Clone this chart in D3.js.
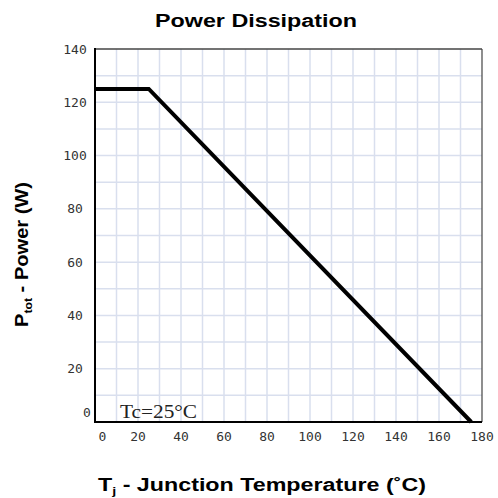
<!DOCTYPE html>
<html>
<head>
<meta charset="utf-8">
<script src="https://cdn.jsdelivr.net/npm/d3@7"></script>
<style>
  body { margin: 0; background: #fff; }
  svg { display: block; }
</style>
</head>
<body>
<div id="chart"></div>
<script>
// power derating curve: Ptot vs Tj
var tempPoints = [0, 25, 175]
var powerPoints = [125, 125, 0]
var xTicks = [0, 20, 40, 60, 80, 100, 120, 140, 160, 180]
var yTicks = [0, 20, 40, 60, 80, 100, 120, 140]
var xGrid = d3.range(10, 180, 10)
var yGrid = d3.range(10, 140, 10)

var W = 498, H = 498
var margin = {top: 49, right: 16, bottom: 76, left: 95}
var width = W - margin.left - margin.right,
    height = H - margin.top - margin.bottom

var svg = d3.select('#chart').append('svg')
  .attr('width', W)
  .attr('height', H)

var x = d3.scaleLinear().domain([0, 180]).range([margin.left, margin.left + width])
var y = d3.scaleLinear().domain([0, 140]).range([margin.top + height, margin.top])

// grid
svg.append('g').selectAll('line').data(xGrid).enter().append('line')
  .attr('x1', d => x(d)).attr('x2', d => x(d))
  .attr('y1', y(140)).attr('y2', y(0))
  .attr('stroke', '#d9dfee').attr('stroke-width', 1.5)
svg.append('g').selectAll('line').data(yGrid).enter().append('line')
  .attr('y1', d => y(d)).attr('y2', d => y(d))
  .attr('x1', x(0)).attr('x2', x(180))
  .attr('stroke', '#d9dfee').attr('stroke-width', 1.5)

// frame: top/right thin, left/bottom heavy
svg.append('line').attr('x1', x(0)).attr('x2', x(180)).attr('y1', y(140)).attr('y2', y(140))
  .attr('stroke', '#444').attr('stroke-width', 1.5)
svg.append('line').attr('x1', x(180)).attr('x2', x(180)).attr('y1', y(140)).attr('y2', y(0))
  .attr('stroke', '#444').attr('stroke-width', 1.2)
svg.append('line').attr('x1', x(0)).attr('x2', x(0)).attr('y1', y(140) - 1).attr('y2', y(0) + 1)
  .attr('stroke', '#000').attr('stroke-width', 2)
svg.append('line').attr('x1', x(0) - 1).attr('x2', x(180)).attr('y1', y(0)).attr('y2', y(0))
  .attr('stroke', '#000').attr('stroke-width', 2)

// tick labels
var tickFont = '"DejaVu Sans Mono", monospace'
svg.append('g').selectAll('text').data(xTicks).enter().append('text')
  .attr('x', d => d == 0 ? x(d) + 7.5 : x(d))
  .attr('y', 441)
  .attr('text-anchor', 'middle')
  .style('font-family', tickFont).style('font-size', '13px').style('fill', '#333')
  .text(d => d)
svg.append('g').selectAll('text').data(yTicks).enter().append('text')
  .attr('x', d => d == 0 ? 87 : 75)
  .attr('y', d => d == 0 ? 412 : y(d))
  .attr('dy', '0.35em')
  .attr('text-anchor', 'middle')
  .style('font-family', tickFont).style('font-size', '13px').style('fill', '#333')
  .text(d => d)

// the curve
var line = d3.line().x((d, i) => x(tempPoints[i])).y(d => y(d))
svg.append('path')
  .datum(powerPoints)
  .attr('d', line)
  .attr('fill', 'none')
  .attr('stroke', '#000')
  .attr('stroke-width', 4)
  .attr('stroke-linejoin', 'miter')

// annotation
svg.append('text')
  .attr('x', 120).attr('y', 418)
  .attr('textLength', 77).attr('lengthAdjust', 'spacingAndGlyphs')
  .style('font-family', '"Liberation Serif", serif').style('font-size', '19px').style('fill', '#222')
  .text('Tc=25°C')

// titles
var boldFont = '"Liberation Sans", Arial, sans-serif'
svg.append('text')
  .attr('x', 155).attr('y', 27)
  .attr('textLength', 202).attr('lengthAdjust', 'spacingAndGlyphs')
  .style('font-family', boldFont).style('font-weight', 'bold').style('font-size', '18px')
  .text('Power Dissipation')

var xl = svg.append('text')
  .attr('x', 98).attr('y', 491)
  .attr('textLength', 328).attr('lengthAdjust', 'spacingAndGlyphs')
  .style('font-family', boldFont).style('font-weight', 'bold').style('font-size', '18px')
xl.append('tspan').text('T')
xl.append('tspan').attr('dy', 4).style('font-size', '11px').text('j')
xl.append('tspan').attr('dy', -4).text(' - Junction Temperature (˚C)')

var yl = svg.append('text')
  .attr('transform', 'translate(28,327) rotate(-90)')
  .attr('textLength', 145).attr('lengthAdjust', 'spacingAndGlyphs')
  .style('font-family', boldFont).style('font-weight', 'bold').style('font-size', '18px')
yl.append('tspan').text('P')
yl.append('tspan').attr('dy', 4).style('font-size', '11px').text('tot')
yl.append('tspan').attr('dy', -4).text(' - Power (W)')
</script>
</body>
</html>
